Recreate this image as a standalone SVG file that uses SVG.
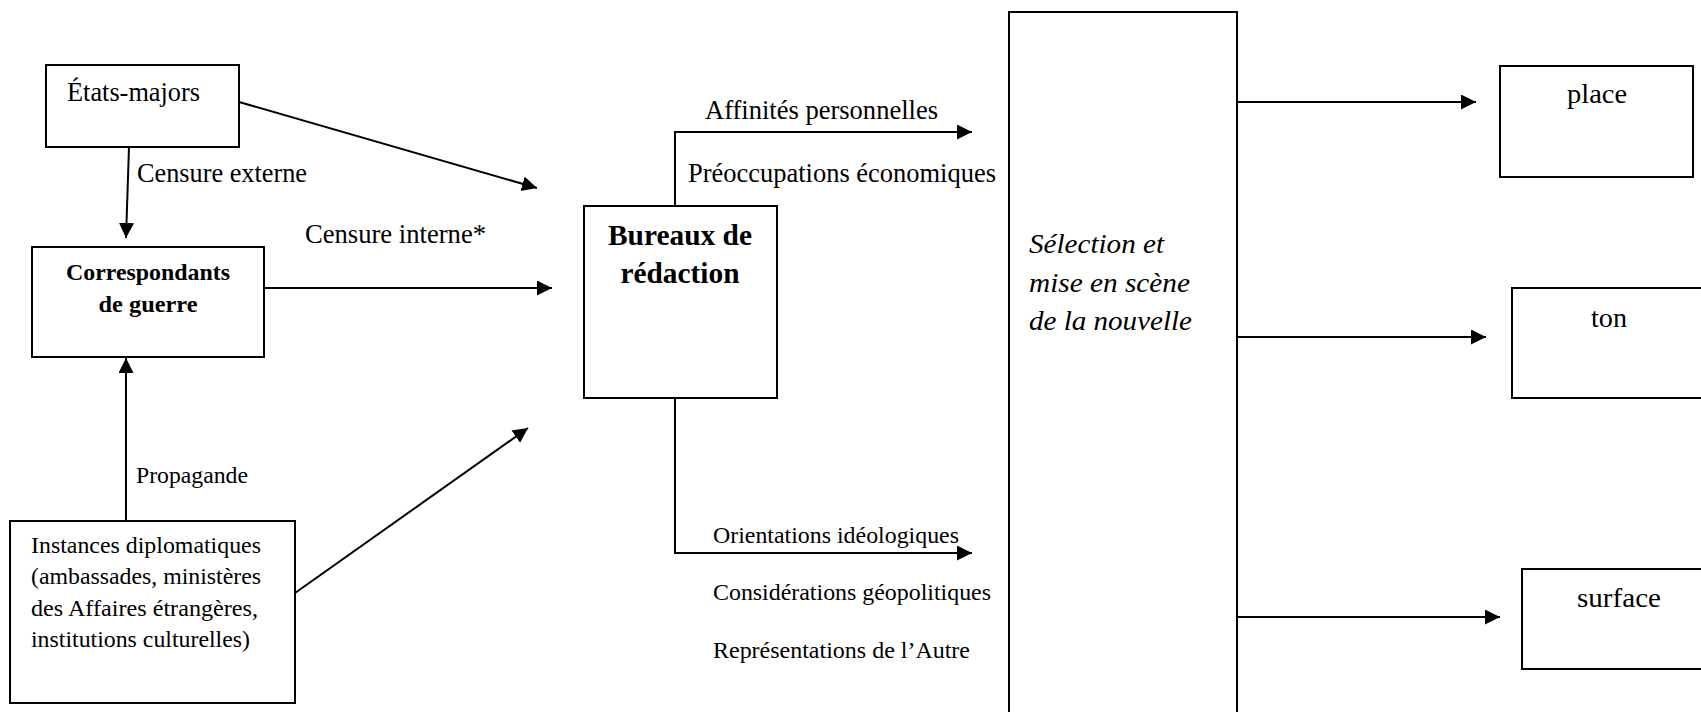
<svg xmlns="http://www.w3.org/2000/svg" width="1701" height="712" viewBox="0 0 1701 712">
<style>
  .box { fill: #fff; stroke: #000; stroke-width: 2; }
  .edge { fill: none; stroke: #000; stroke-width: 2; marker-end: url(#arr); }
  text { font-family: "Liberation Serif", "Times New Roman", Times, serif; fill: #000; }
  .big { font-size: 26.5px; }
  .sm { font-size: 24px; }
  .bold { font-weight: bold; text-anchor: middle; }
  .it { font-style: italic; font-size: 28px; }
  .out { font-size: 28px; text-anchor: middle; }
</style>
<defs>
  <marker id="arr" markerUnits="userSpaceOnUse" markerWidth="16" markerHeight="16" refX="15" refY="7.5" orient="auto">
    <path d="M0,0 L15,7.5 L0,15 Z" fill="#000"/>
  </marker>
</defs>
<rect width="1701" height="712" fill="#fff"/>

<g id="connectors">
  <line class="edge" x1="239" y1="102" x2="537" y2="188"/>
  <line class="edge" x1="129" y1="147" x2="126" y2="238"/>
  <line class="edge" x1="264" y1="288" x2="552" y2="288"/>
  <line class="edge" x1="126" y1="521" x2="126" y2="358"/>
  <line class="edge" x1="295" y1="593" x2="528" y2="428"/>
  <path class="edge" d="M675,206 V132 H972"/>
  <path class="edge" d="M675,398 V553 H972"/>
  <line class="edge" x1="1237" y1="102" x2="1476" y2="102"/>
  <line class="edge" x1="1237" y1="337" x2="1486" y2="337"/>
  <line class="edge" x1="1237" y1="617" x2="1500" y2="617"/>
  <text class="big" x="137" y="182" textLength="170" lengthAdjust="spacingAndGlyphs">Censure externe</text>
  <text class="big" x="305" y="243" textLength="181" lengthAdjust="spacingAndGlyphs">Censure interne*</text>
  <text class="sm" x="136" y="483" textLength="112" lengthAdjust="spacingAndGlyphs">Propagande</text>
  <text class="big" x="705" y="119" textLength="233" lengthAdjust="spacingAndGlyphs">Affinités personnelles</text>
  <text class="big" x="688" y="182" textLength="308" lengthAdjust="spacingAndGlyphs">Préoccupations économiques</text>
  <text class="sm" x="713" y="543" textLength="246" lengthAdjust="spacingAndGlyphs">Orientations idéologiques</text>
  <text class="sm" x="713" y="600" textLength="278" lengthAdjust="spacingAndGlyphs">Considérations géopolitiques</text>
  <text class="sm" x="713" y="658" textLength="257" lengthAdjust="spacingAndGlyphs">Représentations de l’Autre</text>
</g>

<g id="etats-majors">
  <rect class="box" x="46" y="65" width="193" height="82"/>
  <text class="big" x="67" y="101" textLength="133" lengthAdjust="spacingAndGlyphs">États-majors</text>
</g>

<g id="correspondants">
  <rect class="box" x="32" y="247" width="232" height="110"/>
  <text class="bold" x="148" y="280" font-size="23" textLength="164" lengthAdjust="spacingAndGlyphs">Correspondants</text>
  <text class="bold" x="148" y="312" font-size="23" textLength="99" lengthAdjust="spacingAndGlyphs">de guerre</text>
</g>

<g id="instances">
  <rect class="box" x="10" y="521" width="285" height="182"/>
  <text class="sm" x="31" y="553" textLength="230" lengthAdjust="spacingAndGlyphs">Instances diplomatiques</text>
  <text class="sm" x="31" y="584" textLength="230" lengthAdjust="spacingAndGlyphs">(ambassades, ministères</text>
  <text class="sm" x="31" y="616" textLength="227" lengthAdjust="spacingAndGlyphs">des Affaires étrangères,</text>
  <text class="sm" x="31" y="647" textLength="219" lengthAdjust="spacingAndGlyphs">institutions culturelles)</text>
</g>

<g id="bureaux">
  <rect class="box" x="584" y="206" width="193" height="192"/>
  <text class="bold" x="680" y="245" font-size="29" textLength="144" lengthAdjust="spacingAndGlyphs">Bureaux de</text>
  <text class="bold" x="680" y="283" font-size="29" textLength="119" lengthAdjust="spacingAndGlyphs">rédaction</text>
</g>

<g id="selection">
  <rect class="box" x="1009" y="12" width="228" height="720"/>
  <text class="it" x="1029" y="253" textLength="135" lengthAdjust="spacingAndGlyphs">Sélection et</text>
  <text class="it" x="1029" y="292" textLength="161" lengthAdjust="spacingAndGlyphs">mise en scène</text>
  <text class="it" x="1029" y="330" textLength="163" lengthAdjust="spacingAndGlyphs">de la nouvelle</text>
</g>

<g id="place">
  <rect class="box" x="1500" y="66" width="193" height="111"/>
  <text class="out" x="1597" y="103" textLength="60" lengthAdjust="spacingAndGlyphs">place</text>
</g>

<g id="ton">
  <rect class="box" x="1512" y="288" width="210" height="110"/>
  <text class="out" x="1609" y="327" textLength="36" lengthAdjust="spacingAndGlyphs">ton</text>
</g>

<g id="surface">
  <rect class="box" x="1522" y="569" width="200" height="100"/>
  <text class="out" x="1619" y="607" textLength="84" lengthAdjust="spacingAndGlyphs">surface</text>
</g>
</svg>
